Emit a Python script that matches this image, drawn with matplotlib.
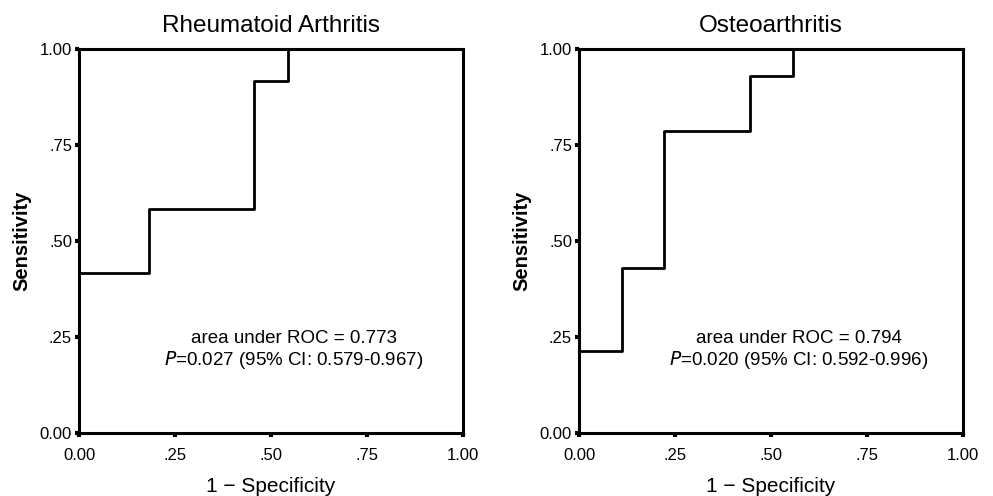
import matplotlib
matplotlib.use('Agg')
from matplotlib import pyplot as plt

plt.rcParams['font.family'] = ['Liberation Sans', 'DejaVu Sans']

# ROC step points (1 - specificity, sensitivity)
ra_fpr = [0.0, 0.182, 0.455, 0.545, 1.0]
ra_tpr = [0.417, 0.583, 0.917, 1.0, 1.0]

oa_fpr = [0.0, 0.111, 0.222, 0.444, 0.556, 1.0]
oa_tpr = [0.214, 0.429, 0.786, 0.929, 1.0, 1.0]

titles = ['Rheumatoid Arthritis', 'Osteoarthritis']
auc_texts = ['area under ROC = 0.773', 'area under ROC = 0.794']
p_texts = ['=0.027 (95% CI: 0.579-0.967)', '=0.020 (95% CI: 0.592-0.996)']

ticks = [0, 0.25, 0.5, 0.75, 1.0]
tick_labels = ['0.00', '.25', '.50', '.75', '1.00']

fig = plt.figure(figsize=(9.93, 4.96), dpi=100)
ax1 = fig.add_axes([0.0796, 0.127, 0.3867, 0.774])
ax2 = fig.add_axes([0.5831, 0.127, 0.3867, 0.774])

curves = [(ra_fpr, ra_tpr), (oa_fpr, oa_tpr)]
for i, ax in enumerate([ax1, ax2]):
    fpr, tpr = curves[i]
    # vertical piece from origin then the steps
    ax.plot([fpr[0], fpr[0]], [0, tpr[0]], color='black', lw=2, clip_on=False)
    ax.step(fpr, tpr, where='post', color='black', lw=2, clip_on=False)
    ax.set_xlim(0, 1)
    ax.set_ylim(0, 1)
    ax.set_xticks(ticks)
    ax.set_xticklabels(tick_labels)
    ax.set_yticks(ticks)
    ax.set_yticklabels(tick_labels)
    ax.tick_params(direction='out', length=3, width=3, labelsize=12)
    ax.tick_params(axis='x', pad=8)
    ax.tick_params(axis='y', pad=2)
    for s in ax.spines.values():
        s.set_linewidth(2.2)
    ax.set_title(titles[i], fontsize=17.5, pad=12)
    ax.set_ylabel('Sensitivity', fontsize=14.5, fontweight='bold', labelpad=6)
    ax.set_xlabel('1 \u2212 Specificity', fontsize=15, labelpad=10)
    cx = 0.56 if i == 0 else 0.573
    ax.text(cx, 0.247, auc_texts[i], ha='center', va='center', fontsize=13.5)
    ax.text(cx, 0.19, '$\\it{P}$' + p_texts[i], ha='center', va='center', fontsize=13.5)

plt.savefig('out.png', dpi=100)
